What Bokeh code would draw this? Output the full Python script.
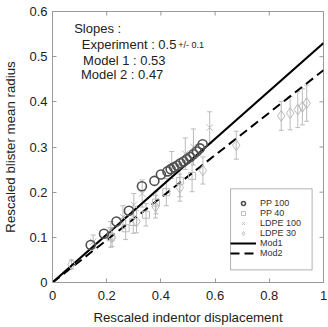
import numpy as np
from bokeh.plotting import figure
from bokeh.models import (ColumnDataSource, Whisker, TeeHead, Legend, LegendItem,
                          FixedTicker, BoxAnnotation, Label)
from bokeh.embed import file_html
from bokeh.resources import INLINE

# ---- data ----
pp100_x = [0.141, 0.190, 0.236, 0.282, 0.330, 0.376, 0.400, 0.424, 0.436, 0.448,
           0.460, 0.472, 0.484, 0.496, 0.508, 0.520, 0.532, 0.544, 0.554]
pp100_y = [0.083, 0.108, 0.135, 0.159, 0.213, 0.225, 0.239, 0.246, 0.251, 0.255,
           0.259, 0.264, 0.268, 0.273, 0.278, 0.284, 0.290, 0.297, 0.306]

pp40_x = [0.215, 0.270, 0.298, 0.345, 0.382, 0.420, 0.470, 0.515]
pp40_y = [0.100, 0.120, 0.134, 0.150, 0.177, 0.200, 0.225, 0.236]
pp40_e = [0.022, 0.025, 0.025, 0.025, 0.025, 0.030, 0.035, 0.035]

ldpe100_x = [0.150, 0.215, 0.260, 0.300, 0.331, 0.440, 0.490, 0.520, 0.580]
ldpe100_y = [0.090, 0.115, 0.145, 0.172, 0.197, 0.260, 0.285, 0.300, 0.343]
ldpe100_e = [0.015, 0.020, 0.025, 0.025, 0.030, 0.030, 0.035, 0.040, 0.035]

ldpe30_x = [0.070, 0.220, 0.310, 0.380, 0.470, 0.555, 0.678, 0.844, 0.877, 0.905, 0.922, 0.938]
ldpe30_y = [0.040, 0.100, 0.135, 0.168, 0.210, 0.248, 0.304, 0.369, 0.375, 0.383, 0.389, 0.397]
ldpe30_e = [0.010, 0.020, 0.025, 0.025, 0.030, 0.030, 0.031, 0.032, 0.037, 0.040, 0.040, 0.040]

slope_names = ["Mod1", "Mod2"]
slope_values = [0.53, 0.47]
exp_slope = 0.5
exp_err = 0.1

x_ticks = [0, 0.2, 0.4, 0.6, 0.8, 1]
y_ticks = [0, 0.1, 0.2, 0.3, 0.4, 0.5, 0.6]
x_min, x_max = 0, 1
y_min, y_max = 0, 0.6

FONT = "Liberation Sans"
GRAY = "#9a9a9a"
LIGHT = "#bbbbbb"

p = figure(frame_width=271, frame_height=271, output_backend="svg", toolbar_location=None,
           x_range=(x_min, x_max), y_range=(y_min, y_max),
           min_border_left=52, min_border_right=5, min_border_top=11, min_border_bottom=44)
p.xgrid.visible = False
p.ygrid.visible = False
p.outline_line_color = GRAY
p.outline_line_width = 1
p.background_fill_color = "white"
p.border_fill_color = "white"

# axes
p.xaxis.ticker = FixedTicker(ticks=x_ticks)
p.yaxis.ticker = FixedTicker(ticks=y_ticks)
p.xaxis.major_label_overrides = {t: ("1" if t == 1 else ("0" if t == 0 else f"{t:g}")) for t in x_ticks}
p.yaxis.major_label_overrides = {t: ("0" if t == 0 else f"{t:g}") for t in y_ticks}
p.xaxis.axis_label = "Rescaled indentor displacement"
p.yaxis.axis_label = "Rescaled blister mean radius"
for ax in [p.xaxis[0], p.yaxis[0]]:
    ax.axis_line_color = GRAY
    ax.major_tick_line_color = GRAY
    ax.major_tick_in = 4
    ax.major_tick_out = 0
    ax.minor_tick_line_color = None
    ax.major_label_text_font = FONT
    ax.major_label_text_font_size = "13px"
    ax.major_label_text_color = "#222222"
    ax.axis_label_text_font = FONT
    ax.axis_label_text_font_size = "13.3px"
    ax.axis_label_text_font_style = "normal"
    ax.axis_label_text_color = "#222222"
p.xaxis.major_label_standoff = 8
p.yaxis.major_label_standoff = 5
p.xaxis.axis_label_standoff = 7
p.yaxis.axis_label_standoff = 8

# inward ticks on top and right edges (half of each dash is clipped by the frame)
p.scatter([x_max] * len(y_ticks), y_ticks, marker="dash", size=8, line_color=GRAY, line_width=1)
p.scatter(x_ticks, [y_max] * len(x_ticks), marker="dash", size=8, angle=np.pi / 2,
          line_color=GRAY, line_width=1)

# model lines
xline = np.array([x_min, x_max], dtype=float)
line_renderers = []
for name, s, dash in zip(slope_names, slope_values, ["solid", "9 5"]):
    r = p.line(xline, s * xline, line_color="black", line_width=2, line_dash=dash)
    line_renderers.append(r)

# error bars
def add_err(xs, ys, es):
    src = ColumnDataSource(dict(x=xs, lo=[a - b for a, b in zip(ys, es)], hi=[a + b for a, b in zip(ys, es)]))
    w = Whisker(source=src, base="x", lower="lo", upper="hi", line_color=LIGHT, line_width=1,
                upper_head=TeeHead(size=5, line_color=LIGHT, line_width=1),
                lower_head=TeeHead(size=5, line_color=LIGHT, line_width=1))
    p.add_layout(w)

add_err(pp40_x, pp40_y, pp40_e)
add_err(ldpe100_x, ldpe100_y, ldpe100_e)
add_err(ldpe30_x, ldpe30_y, ldpe30_e)

r_pp40 = p.scatter(pp40_x, pp40_y, marker="square", size=7, fill_color=None, line_color=LIGHT, line_width=1)
r_ld100 = p.scatter(ldpe100_x, ldpe100_y, marker="x", size=9, line_color=LIGHT, line_width=1)
r_ld30 = p.scatter(ldpe30_x, ldpe30_y, marker="diamond", size=11, fill_color=None, line_color=LIGHT, line_width=1)
r_pp100 = p.scatter(pp100_x, pp100_y, marker="circle", size=9, fill_color=None, line_color="#505050", line_width=1.6)

# legend
box = BoxAnnotation(left=0.657, right=0.958, top=0.2074, bottom=0.028,
                    fill_color=None, fill_alpha=0, line_color="black", line_width=1)
p.add_layout(box)
legend = Legend(items=[
    LegendItem(label="PP 100", renderers=[r_pp100]),
    LegendItem(label="PP 40", renderers=[r_pp40]),
    LegendItem(label="LDPE 100", renderers=[r_ld100]),
    LegendItem(label="LDPE 30", renderers=[r_ld30]),
    LegendItem(label=slope_names[0], renderers=[line_renderers[0]]),
    LegendItem(label=slope_names[1], renderers=[line_renderers[1]]),
], location=(178, 24), orientation="vertical", padding=5, spacing=0, margin=0,
    glyph_height=10, glyph_width=26, label_height=10, label_standoff=4,
    label_text_font=FONT, label_text_font_size="9px", label_text_color="#333333",
    border_line_color=None, background_fill_alpha=0)
p.add_layout(legend)

# slopes text
lab_kw = dict(text_font=FONT, text_font_size="13px", text_color="#222222", text_baseline="middle")
p.add_layout(Label(x=0.080, y=0.562, text="Slopes :", **lab_kw))
p.add_layout(Label(x=0.108, y=0.528, text=f"Experiment : {exp_slope:g}", **lab_kw))
p.add_layout(Label(x=0.464, y=0.526, text=f"+/- {exp_err:g}", text_font=FONT, text_font_size="9px",
                   text_color="#222222", text_baseline="middle"))
p.add_layout(Label(x=0.113, y=0.492, text=f"Model 1 : {slope_values[0]:g}", **lab_kw))
p.add_layout(Label(x=0.105, y=0.460, text=f"Model 2 : {slope_values[1]:g}", **lab_kw))

open("out.html", "w").write(file_html(p, INLINE))
